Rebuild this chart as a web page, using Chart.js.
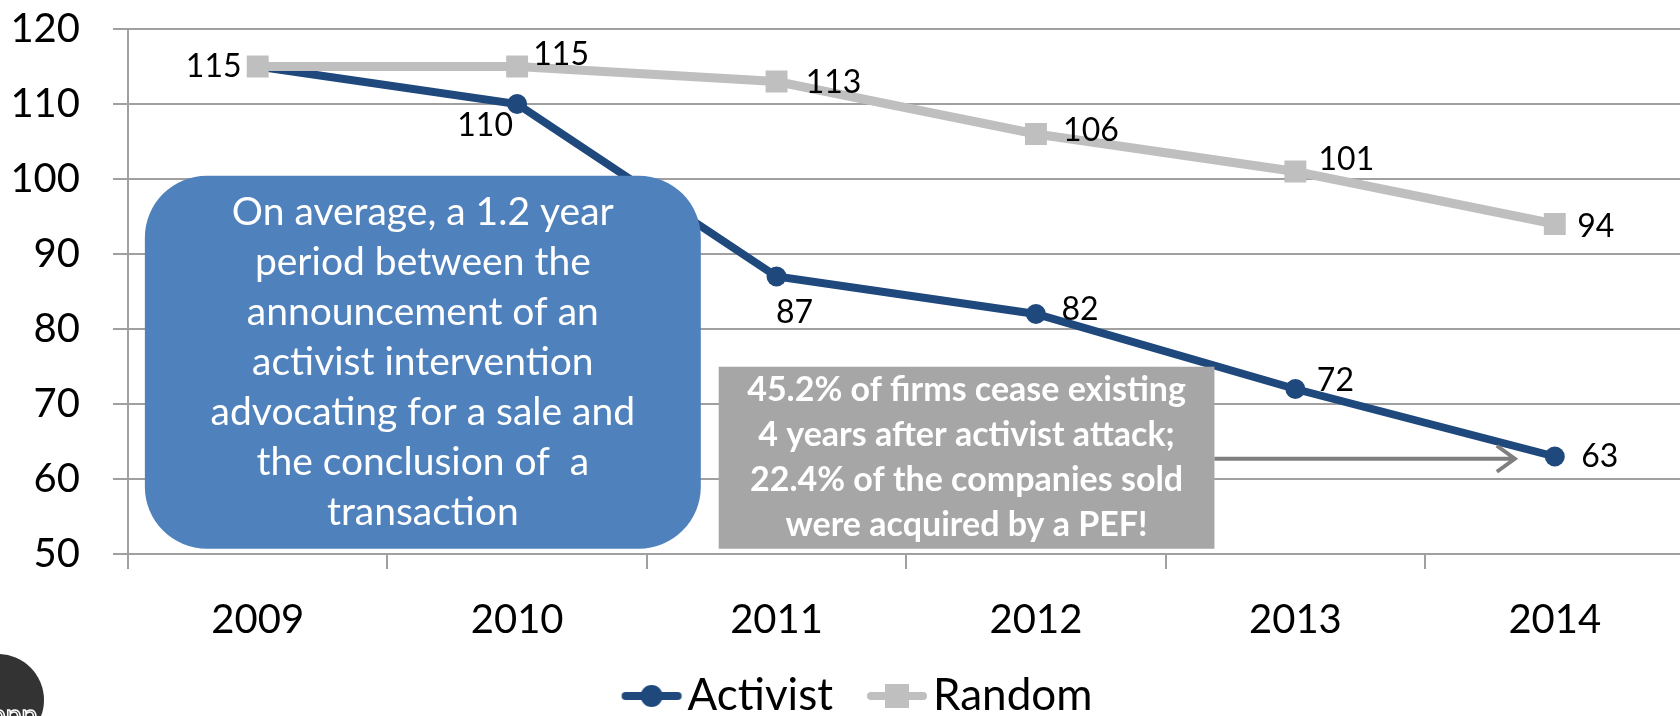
<!DOCTYPE html>
<html>
<head>
<meta charset="utf-8">
<script src="https://cdn.jsdelivr.net/npm/chart.js@4.4.1/dist/chart.umd.min.js"></script>
<style>
  html, body { margin: 0; padding: 0; background: #fff; overflow: hidden; }
  #wrap { width: 1700px; height: 730px; }
</style>
</head>
<body>
<div id="wrap"><canvas id="chart" width="1700" height="730"></canvas></div>
<script>
const years = ['2009', '2010', '2011', '2012', '2013', '2014'];
const activist = [115, 110, 87, 82, 72, 63];
const random = [115, 115, 113, 106, 101, 94];
const yTicks = [50, 60, 70, 80, 90, 100, 110, 120];

const blueNote = [
    'On average, a 1.2 year',
    'period between the',
    'announcement of an',
    'activist intervention',
    'advocating for a sale and',
    'the conclusion of  a',
    'transaction'
];
const grayNote = [
    '45.2% of firms cease existing',
    '4 years after activist attack;',
    '22.4% of the companies sold',
    'were acquired by a PEF!'
];

// where each value label sits, as [dx, dy] from its point (null = not shown)
const activistLabelPos = [null, [-32, 22], [18, 36], [44, -4], [40, -8], [45, 0]];
const randomLabelPos = [[-44, 0], [44, -12], [57, 1], [55, -3], [51, -12], [41, 3]];

const BLUE = '#1F497D';
const GRAY = '#BFBFBF';
const GRID = '#A0A0A0';

Chart.defaults.font.family = 'Lato, "Open Sans", sans-serif';
Chart.defaults.color = '#000';

// legend marker: a short line with the point marker in the middle.
// drawn in the right part of a wider canvas so it sits just before the text
function legendMark(color, kind) {
    const c = document.createElement('canvas');
    c.width = 104;
    c.height = 28;
    const g = c.getContext('2d');
    const x0 = 42;
    g.strokeStyle = color;
    g.fillStyle = color;
    g.lineWidth = 8;
    g.lineCap = 'round';
    g.beginPath();
    g.moveTo(x0 + 5, 14);
    g.lineTo(x0 + 57, 14);
    g.stroke();
    if (kind === 'circle') {
        g.beginPath();
        g.arc(x0 + 31, 14, 11, 0, Math.PI * 2);
        g.fill();
    } else {
        g.fillRect(x0 + 19, 2, 24, 24);
    }
    return c;
}
const legendMarks = [legendMark(BLUE, 'circle'), legendMark(GRAY, 'rect')];

const valueLabels = {
    id: 'valueLabels',
    afterDatasetsDraw(chart) {
        const ctx = chart.ctx;
        const placements = [activistLabelPos, randomLabelPos];
        ctx.save();
        ctx.font = '32px Lato';
        ctx.fillStyle = '#000';
        ctx.textAlign = 'center';
        ctx.textBaseline = 'middle';
        chart.data.datasets.forEach((ds, i) => {
            const meta = chart.getDatasetMeta(i);
            meta.data.forEach((pt, j) => {
                const p = placements[i][j];
                if (!p) return;
                ctx.fillText(String(ds.data[j]), pt.x + p[0], pt.y + p[1]);
            });
        });
        ctx.restore();
    }
};

const notes = {
    id: 'notes',
    afterDatasetsDraw(chart) {
        const ctx = chart.ctx;
        const x = chart.scales.x;
        const y = chart.scales.y;
        ctx.save();

        // rounded blue callout
        const b = { l: x.getPixelForValue(-0.435), r: x.getPixelForValue(1.708),
                    t: y.getPixelForValue(100.44), btm: y.getPixelForValue(50.7) };
        ctx.fillStyle = '#4F81BD';
        ctx.beginPath();
        ctx.roundRect(b.l, b.t, b.r - b.l, b.btm - b.t, 62);
        ctx.fill();
        ctx.fillStyle = '#fff';
        ctx.font = '39px Lato';
        ctx.textAlign = 'center';
        ctx.textBaseline = 'middle';
        const bcx = (b.l + b.r) / 2;
        const bcy = (b.t + b.btm) / 2;
        blueNote.forEach((line, i) => {
            ctx.fillText(line, bcx, bcy + (i - (blueNote.length - 1) / 2) * 50);
        });

        // gray box
        const g = { l: x.getPixelForValue(1.777), r: x.getPixelForValue(3.688),
                    t: y.getPixelForValue(74.97), btm: y.getPixelForValue(50.7) };
        ctx.fillStyle = '#A6A6A6';
        ctx.fillRect(g.l, g.t, g.r - g.l, g.btm - g.t);
        ctx.fillStyle = '#fff';
        ctx.font = 'bold 34px Lato';
        const gcx = (g.l + g.r) / 2;
        const gcy = (g.t + g.btm) / 2;
        grayNote.forEach((line, i) => {
            ctx.fillText(line, gcx, gcy + (i - (grayNote.length - 1) / 2) * 45);
        });

        // arrow from the gray box to the last point
        const ay = y.getPixelForValue(62.7);
        const ax = x.getPixelForValue(4.846);
        ctx.strokeStyle = '#7F7F7F';
        ctx.lineWidth = 4;
        ctx.beginPath();
        ctx.moveTo(g.r, ay);
        ctx.lineTo(ax, ay);
        ctx.moveTo(ax - 18, ay - 13);
        ctx.lineTo(ax, ay);
        ctx.lineTo(ax - 18, ay + 13);
        ctx.stroke();
        ctx.restore();
    },
    afterDraw(chart) {
        // corner logo, mostly cut off
        const ctx = chart.ctx;
        ctx.save();
        ctx.fillStyle = '#333';
        ctx.beginPath();
        ctx.arc(-2, 700, 46, 0, Math.PI * 2);
        ctx.fill();
        ctx.strokeStyle = '#fff';
        ctx.lineWidth = 1.5;
        ctx.font = '28px Lato';
        ctx.strokeText('ppp', -10, 716);
        ctx.restore();
    }
};

new Chart(document.getElementById('chart'), {
    type: 'line',
    data: {
        labels: years,
        datasets: [{
            label: 'Activist',
            data: activist,
            borderColor: BLUE,
            backgroundColor: BLUE,
            borderWidth: 8,
            pointStyle: 'circle',
            pointRadius: 10,
            pointBorderWidth: 0,
            pointBackgroundColor: BLUE,
            tension: 0,
            order: 1
        }, {
            label: 'Random',
            data: random,
            borderColor: GRAY,
            backgroundColor: GRAY,
            borderWidth: 9,
            pointStyle: 'rect',
            pointRadius: 15.5,
            pointBorderWidth: 0,
            pointBackgroundColor: GRAY,
            tension: 0,
            order: 0
        }]
    },
    options: {
        responsive: false,
        animation: false,
        devicePixelRatio: 1,
        layout: { padding: { top: 29, right: 12, bottom: 2, left: 0 } },
        scales: {
            x: {
                offset: true,
                grid: { drawOnChartArea: false, offset: true, tickLength: 15, color: GRID, lineWidth: 2 },
                border: { color: GRID, width: 2 },
                ticks: { font: { size: 40 }, padding: 27, color: '#000' },
                afterFit(scale) { scale.height = 112; }
            },
            y: {
                min: 50,
                max: 120,
                grid: { tickLength: 15, color: GRID, lineWidth: 2 },
                border: { color: GRID, width: 2 },
                ticks: { font: { size: 40 }, padding: 33, color: '#000' },
                afterBuildTicks(scale) { scale.ticks = yTicks.map(v => ({ value: v })); },
                afterFit(scale) {
                    scale.width = 128;
                    // the wide label gap should not push the plot down
                    scale.paddingTop = 0;
                    scale.paddingBottom = 0;
                }
            }
        },
        plugins: {
            tooltip: { enabled: false },
            legend: {
                position: 'bottom',
                labels: {
                    usePointStyle: true,
                    pointStyleWidth: 70,
                    padding: 8,
                    font: { size: 44 },
                    color: '#000',
                    sort: (a, b) => a.datasetIndex - b.datasetIndex,
                    generateLabels(chart) {
                        const items = Chart.defaults.plugins.legend.labels.generateLabels(chart);
                        items.forEach(it => { it.pointStyle = legendMarks[it.datasetIndex]; });
                        return items;
                    }
                }
            }
        }
    },
    plugins: [notes, valueLabels]
});
</script>
</body>
</html>
